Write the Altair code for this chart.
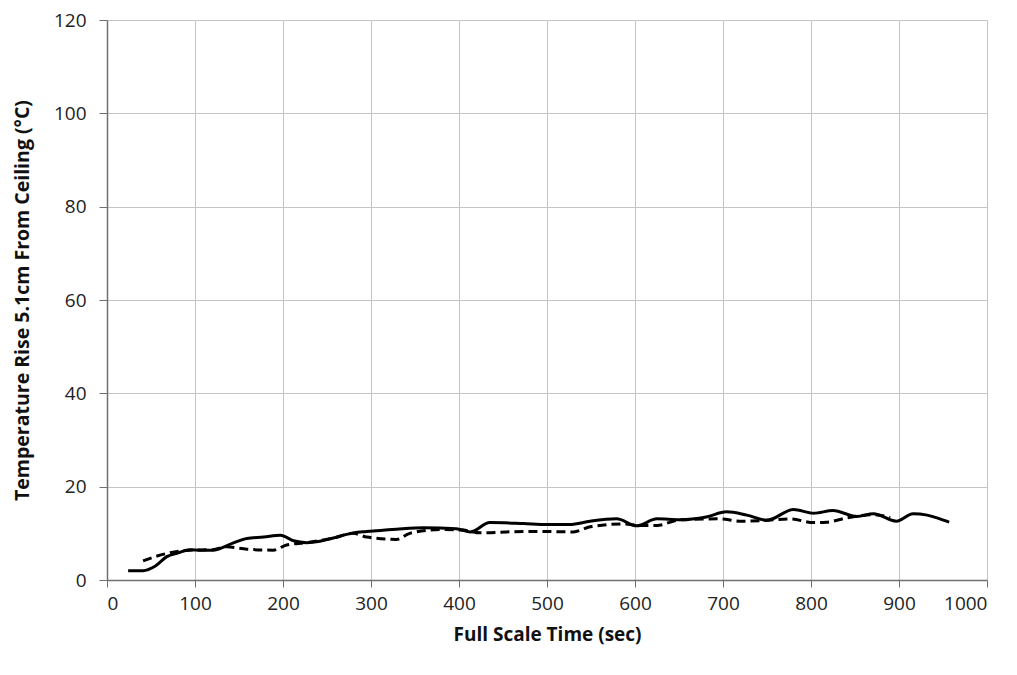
import altair as alt
import pandas as pd

solid_t = [24, 41, 55, 68, 81, 94, 107, 120, 143, 159, 178, 197, 212, 227, 242, 257, 280, 295, 329,
           360, 397, 413, 435, 473, 500, 526, 549, 579, 602, 625, 651, 681, 704, 727, 750, 780, 803,
           825, 852, 871, 897, 916, 932, 954, 957]
solid_v = [2.0, 2.0, 3.0, 5.0, 5.8, 6.5, 6.4, 6.4, 7.9, 8.9, 9.2, 9.6, 8.4, 8.0, 8.3, 9.0, 10.1, 10.4, 10.9,
           11.2, 11.0, 10.3, 12.3, 12.1, 11.9, 11.9, 12.6, 13.1, 11.6, 13.1, 12.9, 13.5, 14.6, 13.9, 12.8, 15.1, 14.3,
           14.9, 13.6, 14.2, 12.6, 14.2, 13.9, 12.6, 12.4]

dash_t = [41, 68, 94, 120, 136, 159, 189, 204, 227, 257, 280, 295, 329, 344, 378, 405, 424, 454, 492,
          530, 549, 587, 606, 625, 651, 697, 719, 750, 776, 803, 818, 841, 871, 890]
dash_v = [4.1, 5.7, 6.4, 6.5, 7.1, 6.6, 6.4, 7.5, 8.0, 9.0, 10.0, 9.2, 8.7, 10.0, 10.8, 10.7, 10.1, 10.3, 10.4,
          10.3, 11.4, 12.0, 11.7, 11.7, 12.9, 13.1, 12.6, 12.8, 13.1, 12.3, 12.4, 13.3, 14.0, 13.4]

x_ticks = list(range(0, 1001, 100))
y_ticks = list(range(0, 121, 20))

solid_df = pd.DataFrame({"t": solid_t, "v": solid_v})
dash_df = pd.DataFrame({"t": dash_t, "v": dash_v})

FONT = "Open Sans"

x_enc = alt.X("t:Q", scale=alt.Scale(domain=[0, 1000], nice=False),
              axis=alt.Axis(values=x_ticks, format="d", title="Full Scale Time (sec)", grid=True,
                            tickSize=7, labelPadding=7, titlePadding=12,
                            titleFontSize=19, titleFontWeight="bold"))
y_enc = alt.Y("v:Q", scale=alt.Scale(domain=[0, 120], nice=False),
              axis=alt.Axis(values=y_ticks, format="d", title="Temperature Rise 5.1cm  From Ceiling (°C)",
                            grid=True, tickSize=8, labelPadding=13, titlePadding=21,
                            titleFontSize=19.5, titleFontWeight="bold"))

solid = alt.Chart(solid_df).mark_line(color="black", strokeWidth=3, interpolate="monotone").encode(
    x=x_enc, y=y_enc)
dashed = alt.Chart(dash_df).mark_line(color="black", strokeWidth=3, strokeDash=[9, 5],
                                      interpolate="monotone").encode(x=x_enc, y=y_enc)

chart = alt.layer(dashed, solid).properties(
    width=880, height=560, autosize="none",
    padding={"left": 99, "top": 12, "right": 22, "bottom": 80},
).configure_view(stroke=None).configure_axis(
    labelFont=FONT, titleFont=FONT, labelFontSize=19,
    labelColor="#222222", titleColor="#111111",
    gridColor="#c4c4c4", gridWidth=1, domainColor="#707070", tickColor="#707070",
    domainWidth=1.5,
)

chart.save("out.html", embed_options={"renderer": "svg", "actions": False})
